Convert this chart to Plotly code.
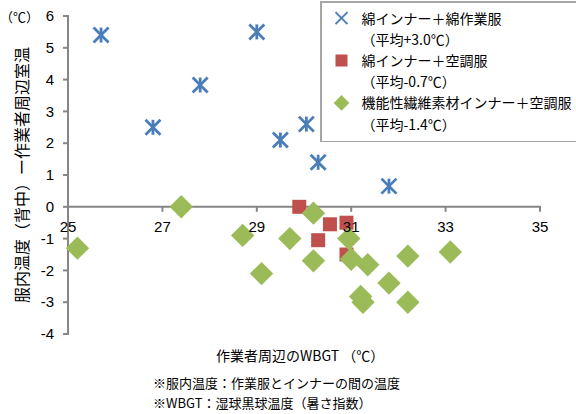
import plotly.graph_objects as go

# 綿インナー＋綿作業服
cotton_work_x = [25.7, 26.8, 27.8, 29.0, 29.5, 30.05, 30.3, 31.8]
cotton_work_y = [5.4, 2.5, 3.83, 5.5, 2.1, 2.6, 1.4, 0.65]

# 綿インナー＋空調服
cotton_fan_x = [29.9, 30.55, 30.9, 30.3, 30.9]
cotton_fan_y = [0.0, -0.55, -0.5, -1.05, -1.5]

# 機能性繊維素材インナー＋空調服
func_fan_x = [25.2, 27.4, 28.7, 29.1, 29.7, 30.2, 30.2, 30.95, 31.0, 31.35,
              32.2, 33.1, 31.8, 31.2, 31.25, 32.2]
func_fan_y = [-1.3, 0.0, -0.9, -2.1, -1.0, -0.2, -1.7, -1.0, -1.65, -1.82,
              -1.55, -1.42, -2.4, -2.82, -3.0, -3.0]

series_names = ["綿インナー＋綿作業服", "綿インナー＋空調服", "機能性繊維素材インナー＋空調服"]
series_means = ["（平均+3.0℃）", "（平均-0.7℃）", "（平均-1.4℃）"]

x_ticks = [25, 27, 29, 31, 33, 35]
y_ticks = [-4, -3, -2, -1, 0, 1, 2, 3, 4, 5, 6]
x_lim = [25, 35]
y_lim = [-4, 6]

BLUE = "#4A7EBB"
RED = "#C0504D"
GREEN = "#9BBB59"
AXIS = "#868686"
FONT = "Noto Sans CJK JP, Noto Sans, sans-serif"
NUM_FONT = "Liberation Sans, sans-serif"

W, H = 576, 414
# pixel box spanned by the axis lines
AX_L, AX_R, AX_T, AX_B = 68, 540, 16, 334
TICK_LEN = 5
AXIS_W = 2
PAD_L, PAD_R, PAD_T, PAD_B = 7, 2, 2, 2
# plotly's line-ew / line-ns symbols are 1.4 x marker size long
LINE_SYMBOL_SCALE = 1.4

ux = (AX_R - AX_L) / (x_lim[1] - x_lim[0])   # px per x unit
uy = (AX_B - AX_T) / (y_lim[1] - y_lim[0])   # px per y unit
x_range = [x_lim[0] - PAD_L / ux, x_lim[1] + PAD_R / ux]
y_range = [y_lim[0] - PAD_B / uy, y_lim[1] + PAD_T / uy]

ML, MR = AX_L - PAD_L, W - (AX_R + PAD_R)
MT, MB = AX_T - PAD_T, H - (AX_B + PAD_B)
plot_w = W - ML - MR
plot_h = H - MT - MB


def px_x(px):
    return (px - ML) / plot_w


def px_y(py):
    return (H - MB - py) / plot_h


zero_pos = (0 - y_range[0]) / (y_range[1] - y_range[0])

fig = go.Figure()


def stroke(x, y, symbol, length):
    # a straight axis stroke drawn as a line-shaped marker of the given pixel length
    return go.Scatter(
        x=x, y=y, mode="markers", showlegend=False, hoverinfo="skip",
        cliponaxis=False,
        marker=dict(symbol=symbol, size=length / LINE_SYMBOL_SCALE, color=AXIS,
                    line=dict(color=AXIS, width=AXIS_W)),
    )


# x axis crosses at y = 0, y axis sits at the left end of the x scale
fig.add_trace(stroke([sum(x_lim) / 2], [0], "line-ew-open",
                     (x_lim[1] - x_lim[0]) * ux + AXIS_W))
fig.add_trace(stroke([x_lim[0]], [sum(y_lim) / 2], "line-ns-open",
                     (y_lim[1] - y_lim[0]) * uy + AXIS_W))
# outward tick marks
fig.add_trace(stroke(x_ticks, [-TICK_LEN / 2 / uy] * len(x_ticks),
                     "line-ns-open", TICK_LEN))
fig.add_trace(stroke([x_lim[0] - TICK_LEN / 2 / ux] * len(y_ticks), y_ticks,
                     "line-ew-open", TICK_LEN))


def mean_entry(text, group):
    # second legend line carrying the series average
    return go.Scatter(x=[None], y=[None], mode="markers", name=text,
                      legendgroup=group, hoverinfo="skip",
                      marker=dict(size=1, opacity=0, color="white"))


# star marker: an X with a vertical stroke through it
fig.add_trace(go.Scatter(
    x=cotton_work_x, y=cotton_work_y, mode="markers", name=series_names[0],
    legendgroup="a",
    marker=dict(symbol="x-thin-open", size=15, color=BLUE,
                line=dict(color=BLUE, width=2.8)),
))
fig.add_trace(go.Scatter(
    x=cotton_work_x, y=cotton_work_y, mode="markers", showlegend=False,
    hoverinfo="skip", legendgroup="a",
    marker=dict(symbol="line-ns-open", size=15 / LINE_SYMBOL_SCALE, color=BLUE,
                line=dict(color=BLUE, width=2.8)),
))
fig.add_trace(mean_entry(series_means[0], "a"))
fig.add_trace(go.Scatter(
    x=cotton_fan_x, y=cotton_fan_y, mode="markers", name=series_names[1],
    legendgroup="b",
    marker=dict(symbol="square", size=14, color=RED),
))
fig.add_trace(mean_entry(series_means[1], "b"))
fig.add_trace(go.Scatter(
    x=func_fan_x, y=func_fan_y, mode="markers", name=series_names[2],
    legendgroup="c",
    marker=dict(symbol="diamond", size=18, color=GREEN),
))
fig.add_trace(mean_entry(series_means[2], "c"))

axis_common = dict(
    showgrid=False, zeroline=False, showline=False, ticks="",
    tickfont=dict(family=NUM_FONT, size=15, color="#000000"),
)

fig.update_layout(
    width=W, height=H,
    margin=dict(l=ML, r=MR, t=MT, b=MB, autoexpand=False),
    paper_bgcolor="white", plot_bgcolor="white",
    font=dict(family=FONT, size=14, color="#000000"),
    showlegend=True,
    legend=dict(
        x=px_x(320), y=px_y(1), xanchor="left", yanchor="top",
        bordercolor="#A6A6A6", borderwidth=1.5, bgcolor="white",
        font=dict(size=14, family=FONT), itemsizing="constant",
        tracegroupgap=0, itemwidth=30, groupclick="togglegroup",
    ),
    xaxis=dict(
        range=x_range, tickvals=x_ticks, ticktext=[str(v) for v in x_ticks],
        anchor="free", position=zero_pos, ticklabelstandoff=9, **axis_common,
    ),
    yaxis=dict(
        range=y_range, tickvals=y_ticks, ticktext=[str(v) for v in y_ticks],
        ticklabelstandoff=6,
        title=dict(text="服内温度（背中）ー作業者周辺室温", standoff=8,
                   font=dict(size=16, family=FONT)),
        **axis_common,
    ),
    annotations=[
        dict(text="（℃）", x=px_x(41), y=px_y(17), xref="paper", yref="paper",
             xanchor="right", yanchor="middle", showarrow=False,
             font=dict(size=13, family=FONT)),
        dict(text="作業者周辺のWBGT （℃）", x=px_x(300), y=px_y(355),
             xref="paper", yref="paper", xanchor="center", yanchor="middle",
             showarrow=False, font=dict(size=14, family=FONT)),
        dict(text="※服内温度：作業服とインナーの間の温度",
             x=px_x(151), y=px_y(383), xref="paper", yref="paper",
             xanchor="left", yanchor="middle",
             showarrow=False, font=dict(size=13, family=FONT)),
        dict(text="※WBGT：湿球黒球温度（暑さ指数）",
             x=px_x(151), y=px_y(402), xref="paper", yref="paper",
             xanchor="left", yanchor="middle",
             showarrow=False, font=dict(size=13, family=FONT)),
    ],
)

fig.write_html("out.html")
